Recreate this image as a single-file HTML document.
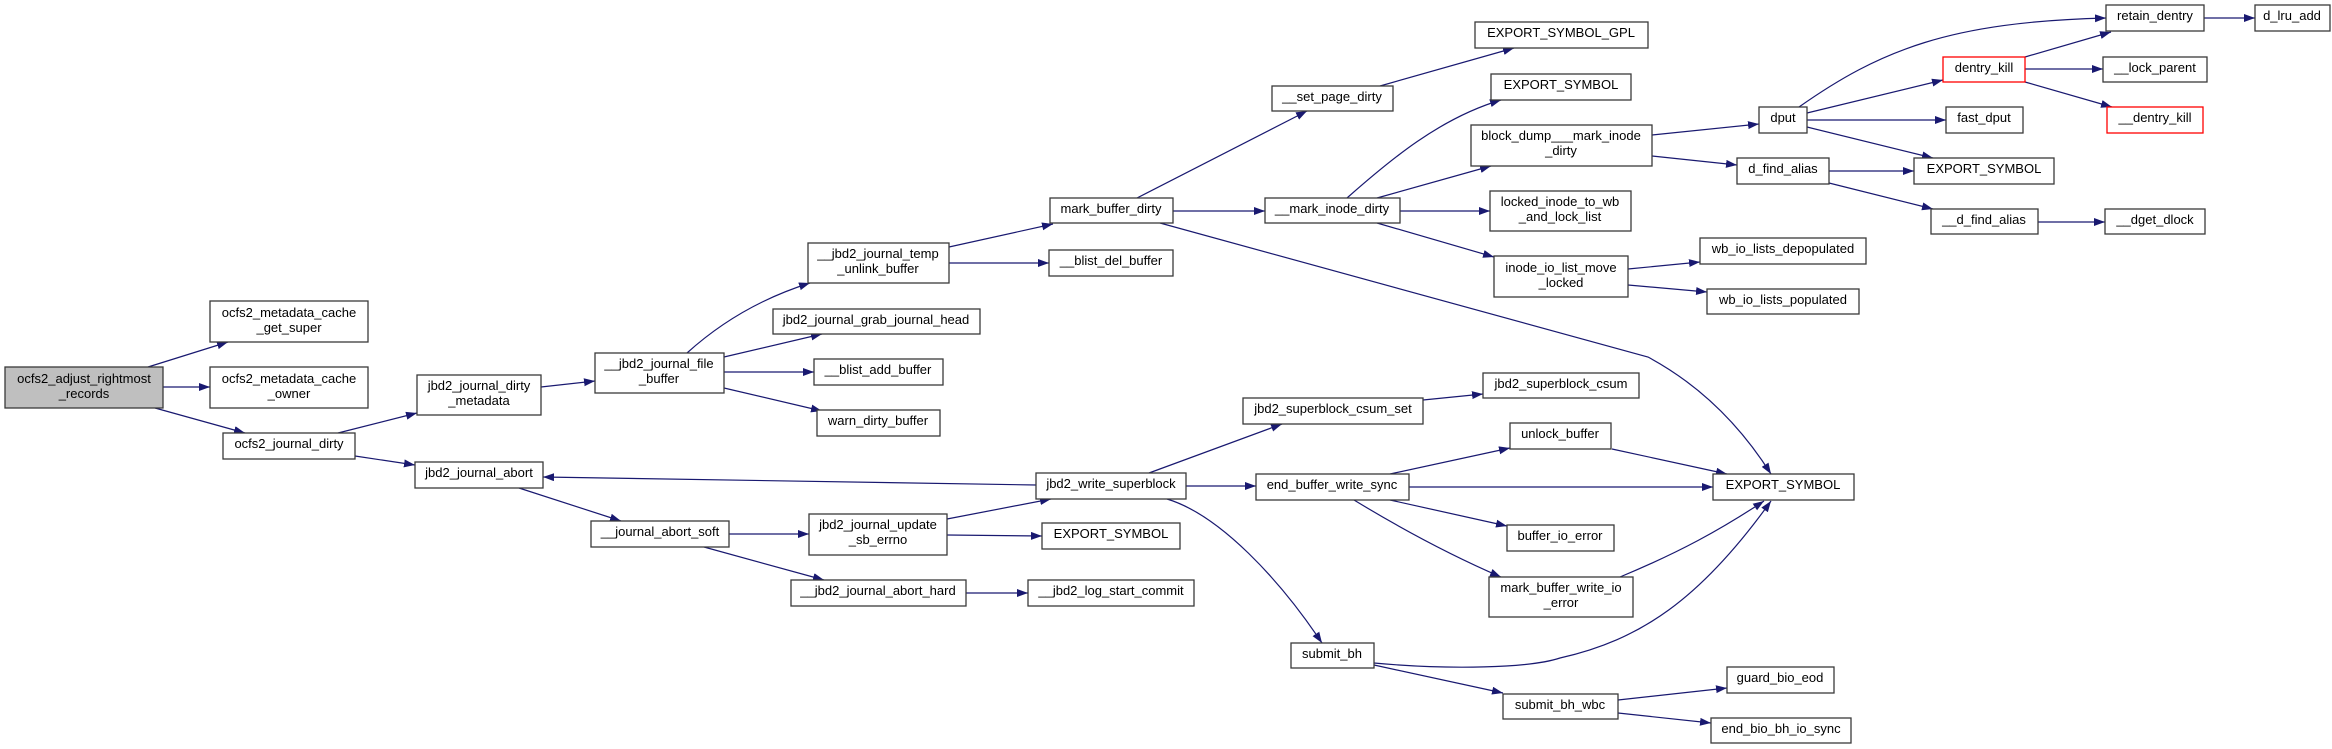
<!DOCTYPE html>
<html><head><meta charset="utf-8"><style>
html,body{margin:0;padding:0;background:#fff}
svg{display:block}
text{font-family:"Liberation Sans",Arial,sans-serif;font-size:13px;fill:#000;text-anchor:middle;transform:translateY(-2px)}
rect{fill:#fff;stroke:#3a3a3a;stroke-width:1.3}
.e{fill:none;stroke:#191970;stroke-width:1.2;marker-end:url(#a)}
</style></head><body>
<svg width="2332" height="749" viewBox="0 0 2332 749" xmlns="http://www.w3.org/2000/svg">
<defs><marker id="a" markerUnits="userSpaceOnUse" markerWidth="12" markerHeight="9" refX="11" refY="4" orient="auto"><path d="M0,0 L11,4 L0,8 z" fill="#191970"/></marker></defs>
<g>
<path class="e" d="M148,367 L228,342"/>
<path class="e" d="M163,387 L210,387"/>
<path class="e" d="M155,408 L245,433"/>
<path class="e" d="M338,433 L417,413"/>
<path class="e" d="M355,456 L415,465"/>
<path class="e" d="M541,387 L595,381"/>
<path class="e" d="M687,353 Q740,305 810,283"/>
<path class="e" d="M724,357 L822,334"/>
<path class="e" d="M724,372 L814,372"/>
<path class="e" d="M724,388 L822,411"/>
<path class="e" d="M949,247 L1053,224"/>
<path class="e" d="M949,263 L1049,263"/>
<path class="e" d="M1137,198 L1307,111"/>
<path class="e" d="M1173,211 L1265,211"/>
<path class="e" d="M1160,223 L1648,357 C1700,385 1740,425 1771,474"/>
<path class="e" d="M1380,86 L1514,48"/>
<path class="e" d="M1347,198 C1390,160 1440,118 1501,100"/>
<path class="e" d="M1377,198 L1491,166"/>
<path class="e" d="M1400,211 L1490,211"/>
<path class="e" d="M1377,223 L1494,257"/>
<path class="e" d="M1652,135 L1759,124"/>
<path class="e" d="M1652,156 L1737,165"/>
<path class="e" d="M1799,107 C1880,50 1950,22 2106,18"/>
<path class="e" d="M1807,113 L1943,80"/>
<path class="e" d="M1807,120 L1946,120"/>
<path class="e" d="M1807,127 L1933,158"/>
<path class="e" d="M2025,57 L2111,32"/>
<path class="e" d="M2025,69 L2103,69"/>
<path class="e" d="M2025,82 L2112,107"/>
<path class="e" d="M2204,18 L2255,18"/>
<path class="e" d="M1829,171 L1914,171"/>
<path class="e" d="M1829,183 L1933,209"/>
<path class="e" d="M2038,222 L2105,222"/>
<path class="e" d="M1628,269 L1700,262"/>
<path class="e" d="M1628,285 L1707,292"/>
<path class="e" d="M1036,485 L543,477"/>
<path class="e" d="M1149,473 L1282,424"/>
<path class="e" d="M1186,486 L1256,486"/>
<path class="e" d="M1167,499 C1220,515 1280,580 1322,643"/>
<path class="e" d="M1423,400 L1483,394"/>
<path class="e" d="M1390,474 L1510,448"/>
<path class="e" d="M1409,487 L1713,487"/>
<path class="e" d="M1390,500 L1507,526"/>
<path class="e" d="M1354,500 C1400,528 1450,555 1501,577"/>
<path class="e" d="M1612,449 L1727,474"/>
<path class="e" d="M1620,577 C1680,552 1720,530 1764,501"/>
<path class="e" d="M1374,663 C1450,670 1530,668 1560,658 C1640,640 1700,600 1771,501"/>
<path class="e" d="M1374,665 L1503,693"/>
<path class="e" d="M1618,700 L1727,688"/>
<path class="e" d="M1618,713 L1711,723"/>
<path class="e" d="M729,534 L809,534"/>
<path class="e" d="M704,547 L824,580"/>
<path class="e" d="M519,488 L621,521"/>
<path class="e" d="M947,519 L1051,499"/>
<path class="e" d="M947,535 L1042,536"/>
<path class="e" d="M966,593 L1028,593"/>
</g>
<g>
<rect x="5" y="367" width="158" height="41" style="fill:#bfbfbf"/><text x="84" y="385">ocfs2_adjust_rightmost</text><text x="84" y="400">_records</text>
<rect x="210" y="301" width="158" height="41"/><text x="289" y="319">ocfs2_metadata_cache</text><text x="289" y="334">_get_super</text>
<rect x="210" y="367" width="158" height="41"/><text x="289" y="385">ocfs2_metadata_cache</text><text x="289" y="400">_owner</text>
<rect x="223" y="433" width="132" height="26"/><text x="289" y="450">ocfs2_journal_dirty</text>
<rect x="417" y="375" width="124" height="40"/><text x="479" y="392">jbd2_journal_dirty</text><text x="479" y="407">_metadata</text>
<rect x="595" y="353" width="129" height="40"/><text x="659" y="370">__jbd2_journal_file</text><text x="659" y="385">_buffer</text>
<rect x="415" y="462" width="128" height="26"/><text x="479" y="479">jbd2_journal_abort</text>
<rect x="591" y="521" width="138" height="26"/><text x="660" y="538">__journal_abort_soft</text>
<rect x="1475" y="22" width="173" height="26"/><text x="1561" y="39">EXPORT_SYMBOL_GPL</text>
<rect x="1272" y="86" width="121" height="25"/><text x="1332" y="103">__set_page_dirty</text>
<rect x="1491" y="74" width="140" height="26"/><text x="1561" y="91">EXPORT_SYMBOL</text>
<rect x="1471" y="125" width="181" height="41"/><text x="1561" y="142">block_dump___mark_inode</text><text x="1561" y="157">_dirty</text>
<rect x="1490" y="191" width="141" height="40"/><text x="1560" y="208">locked_inode_to_wb</text><text x="1560" y="223">_and_lock_list</text>
<rect x="1494" y="256" width="134" height="41"/><text x="1561" y="274">inode_io_list_move</text><text x="1561" y="289">_locked</text>
<rect x="1050" y="198" width="123" height="25"/><text x="1111" y="215">mark_buffer_dirty</text>
<rect x="1265" y="198" width="135" height="25"/><text x="1332" y="215">__mark_inode_dirty</text>
<rect x="808" y="243" width="141" height="40"/><text x="878" y="260">__jbd2_journal_temp</text><text x="878" y="275">_unlink_buffer</text>
<rect x="1049" y="250" width="124" height="26"/><text x="1111" y="267">__blist_del_buffer</text>
<rect x="773" y="309" width="207" height="25"/><text x="876" y="326">jbd2_journal_grab_journal_head</text>
<rect x="814" y="359" width="129" height="26"/><text x="878" y="376">__blist_add_buffer</text>
<rect x="817" y="410" width="123" height="26"/><text x="878" y="427">warn_dirty_buffer</text>
<rect x="1036" y="473" width="150" height="26"/><text x="1111" y="490">jbd2_write_superblock</text>
<rect x="1243" y="398" width="180" height="26"/><text x="1333" y="415">jbd2_superblock_csum_set</text>
<rect x="1256" y="474" width="153" height="26"/><text x="1332" y="491">end_buffer_write_sync</text>
<rect x="809" y="514" width="138" height="41"/><text x="878" y="531">jbd2_journal_update</text><text x="878" y="546">_sb_errno</text>
<rect x="1042" y="523" width="138" height="26"/><text x="1111" y="540">EXPORT_SYMBOL</text>
<rect x="791" y="580" width="175" height="26"/><text x="878" y="597">__jbd2_journal_abort_hard</text>
<rect x="1028" y="580" width="166" height="26"/><text x="1111" y="597">__jbd2_log_start_commit</text>
<rect x="1291" y="643" width="83" height="25"/><text x="1332" y="660">submit_bh</text>
<rect x="1483" y="373" width="156" height="25"/><text x="1561" y="390">jbd2_superblock_csum</text>
<rect x="1510" y="423" width="101" height="26"/><text x="1560" y="440">unlock_buffer</text>
<rect x="1507" y="525" width="107" height="26"/><text x="1560" y="542">buffer_io_error</text>
<rect x="1489" y="577" width="144" height="40"/><text x="1561" y="594">mark_buffer_write_io</text><text x="1561" y="609">_error</text>
<rect x="1503" y="694" width="115" height="25"/><text x="1560" y="711">submit_bh_wbc</text>
<rect x="2106" y="5" width="98" height="26"/><text x="2155" y="22">retain_dentry</text>
<rect x="2255" y="5" width="75" height="26"/><text x="2292" y="22">d_lru_add</text>
<rect x="1943" y="57" width="82" height="25" style="stroke:#ff0000"/><text x="1984" y="74">dentry_kill</text>
<rect x="2103" y="57" width="104" height="25"/><text x="2155" y="74">__lock_parent</text>
<rect x="2107" y="107" width="96" height="26" style="stroke:#ff0000"/><text x="2155" y="124">__dentry_kill</text>
<rect x="1759" y="107" width="48" height="26"/><text x="1783" y="124">dput</text>
<rect x="1946" y="107" width="77" height="26"/><text x="1984" y="124">fast_dput</text>
<rect x="1737" y="158" width="92" height="26"/><text x="1783" y="175">d_find_alias</text>
<rect x="1914" y="158" width="140" height="26"/><text x="1984" y="175">EXPORT_SYMBOL</text>
<rect x="1931" y="209" width="107" height="25"/><text x="1984" y="226">__d_find_alias</text>
<rect x="2105" y="209" width="100" height="25"/><text x="2155" y="226">__dget_dlock</text>
<rect x="1700" y="238" width="166" height="26"/><text x="1783" y="255">wb_io_lists_depopulated</text>
<rect x="1707" y="289" width="152" height="25"/><text x="1783" y="306">wb_io_lists_populated</text>
<rect x="1713" y="474" width="141" height="26"/><text x="1783" y="491">EXPORT_SYMBOL</text>
<rect x="1727" y="667" width="107" height="26"/><text x="1780" y="684">guard_bio_eod</text>
<rect x="1711" y="718" width="140" height="25"/><text x="1781" y="735">end_bio_bh_io_sync</text>
</g>
</svg>
</body></html>
